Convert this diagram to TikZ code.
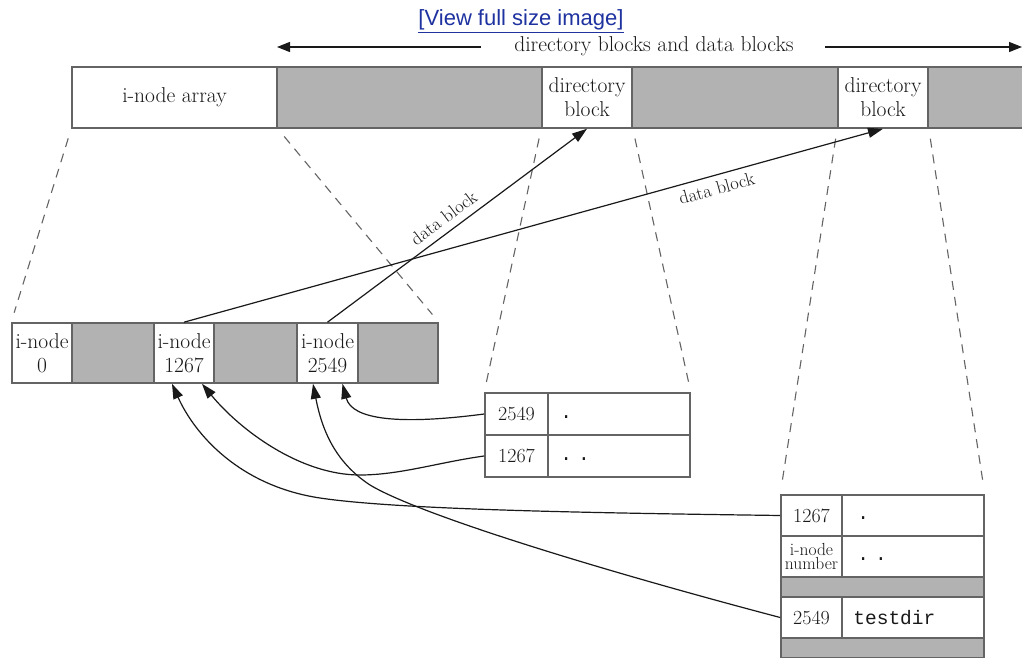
\documentclass[tikz,border=0pt]{standalone}
\usepackage{fontspec}
\newfontfamily\linkfont{Liberation Sans}
\newfontfamily\codefont{Liberation Mono}
\usetikzlibrary{arrows.meta}
\definecolor{cellgray}{RGB}{178,178,178}
\definecolor{edgegray}{RGB}{100,100,100}
\definecolor{ink}{RGB}{25,25,25}
\definecolor{linkblue}{RGB}{30,50,160}
\begin{document}
\begin{tikzpicture}[x=1pt,y=-1pt,
  cell/.style={draw=edgegray, line width=1.6pt, inner sep=0pt, text=ink, align=center,
    font=\fontsize{21.5}{24}\selectfont},
  wcell/.style={cell, fill=white},
  gcell/.style={cell, fill=cellgray},
  numcell/.style={wcell, font=\fontsize{20}{23}\selectfont},
  txt/.style={text=ink, inner sep=1pt},
  codetxt/.style={txt, anchor=west, font=\codefont\fontsize{19.5}{22}\selectfont},
  dashline/.style={draw=edgegray, line width=1.1pt, dash pattern=on 9pt off 7pt,
    shorten <=10pt, shorten >=10pt},
  ptr/.style={draw=ink, line width=1.2pt, -{Triangle[length=15pt,width=10pt]}},
  topptr/.style={draw=ink, line width=1.2pt, -{Triangle[length=13pt,width=10pt]}},
  blocklabel/.style={text=ink, font=\fontsize{18.5}{20}\selectfont, sloped, inner sep=2pt}
]
\clip (0,0) rectangle (1022,658);
\fill[white] (0,0) rectangle (1022,658);

% link
\node[text=linkblue, font=\linkfont\fontsize{22}{25}\selectfont, inner sep=0pt] (link) at (521,20) {[View full size image]};
\draw[linkblue, line width=1pt] ([yshift=-2pt]link.south west) -- ([yshift=-2pt]link.south east);

% top label and arrows
\node[txt, font=\fontsize{21.5}{24}\selectfont] (toplbl) at (654,46) {directory blocks and data blocks};
\coordinate (tipL) at (277,47);
\coordinate (tipR) at (1022,47);
\draw[topptr] ([xshift=-32pt,yshift=-1pt]toplbl.west) -- (tipL);
\draw[topptr] ([xshift=30pt,yshift=-1pt]toplbl.east) -- (tipR);

% top bar
\node[wcell, minimum width=205pt, minimum height=61pt] (arr) at (174.5,97.5) {i-node array};
\node[gcell, minimum width=265pt, minimum height=61pt] (g1) at (409.5,97.5) {};
\node[wcell, minimum width=90pt, minimum height=61pt] (db1) at (587,97.5) {directory\\block};
\node[gcell, minimum width=206pt, minimum height=61pt] (g2) at (735,97.5) {};
\node[wcell, minimum width=90pt, minimum height=61pt] (db2) at (883,97.5) {directory\\block};
\node[gcell, minimum width=112pt, minimum height=61pt] (g3) at (984,97.5) {};

% i-node row
\node[wcell, minimum width=60pt, minimum height=60pt] (in0) at (42,353) {i-node\\0};
\node[gcell, minimum width=82pt, minimum height=60pt] (ig1) at (113,353) {};
\node[wcell, minimum width=60pt, minimum height=60pt] (inA) at (184,353) {i-node\\1267};
\node[gcell, minimum width=83pt, minimum height=60pt] (ig2) at (255.5,353) {};
\node[wcell, minimum width=61pt, minimum height=60pt] (inB) at (327.5,353) {i-node\\2549};
\node[gcell, minimum width=80pt, minimum height=60pt] (ig3) at (398,353) {};

% directory table 1
\node[numcell, minimum width=63pt, minimum height=42pt] (t1n1) at (516.5,414) {2549};
\node[wcell, minimum width=142pt, minimum height=42pt] (t1e1) at (619,414) {};
\node[numcell, minimum width=63pt, minimum height=42pt] (t1n2) at (516.5,456) {1267};
\node[wcell, minimum width=142pt, minimum height=42pt] (t1e2) at (619,456) {};
\node[codetxt] (t1d1) at ([xshift=12pt,yshift=-3pt]t1e1.west) {.};
\node[codetxt] (t1d2) at ([xshift=12pt,yshift=-3pt]t1e2.west) {.\kern6pt.};

% directory table 2
\node[numcell, minimum width=61pt, minimum height=41pt] (t2n1) at (811.5,515.5) {1267};
\node[wcell, minimum width=142pt, minimum height=41pt] (t2e1) at (913,515.5) {};
\node[wcell, minimum width=61pt, minimum height=41pt, font=\fontsize{17.5}{14.5}\selectfont] (t2n2) at (811.5,556.5) {i-node\\number};
\node[wcell, minimum width=142pt, minimum height=41pt] (t2e2) at (913,556.5) {};
\node[gcell, minimum width=203pt, minimum height=20pt] (t2g1) at (882.5,587) {};
\node[numcell, minimum width=61pt, minimum height=41pt] (t2n3) at (811.5,617.5) {2549};
\node[wcell, minimum width=142pt, minimum height=41pt] (t2e3) at (913,617.5) {};
\node[gcell, minimum width=203pt, minimum height=20pt] (t2g2) at (882.5,648) {};
\node[codetxt] (t2d1) at ([xshift=15pt,yshift=-3pt]t2e1.west) {.};
\node[codetxt] (t2d2) at ([xshift=15pt,yshift=-3pt]t2e2.west) {.\kern6pt.};
\node[codetxt] (t2d3) at ([xshift=11pt]t2e3.west) {testdir};

% dashed projection lines
\draw[dashline] (arr.south west) -- (in0.north west);
\draw[dashline] (arr.south east) -- (ig3.north east);
\draw[dashline] (db1.south west) -- (t1n1.north west);
\draw[dashline] (db1.south east) -- (t1e1.north east);
\draw[dashline] (db2.south west) -- (t2n1.north west);
\draw[dashline] (db2.south east) -- (t2e1.north east);

% data block pointers
\draw[ptr] (inB.north) -- node[blocklabel, pos=0.48, above=5pt] {data block} (db1.south);
\draw[ptr] (inA.north) -- node[blocklabel, pos=0.757, below=4pt] {data block} (db2.south);

% directory entry pointers back to i-nodes
\draw[ptr] (t1n1.west) .. controls (400,425) and (352,420) .. ([xshift=15pt]inB.south);
\draw[ptr] (t1n2.west) .. controls (440,462) and (400,475) .. (360,475)
  .. controls (300,475) and (240,430) .. ([xshift=18pt]inA.south);
\draw[ptr] (t2n1.west) .. controls (600,513) and (400,510) .. (320,498)
  .. controls (240,486) and (195,435) .. ([xshift=-12pt]inA.south);
\draw[ptr] (t2n3.west) .. controls (600,570) and (420,515) .. (370,485)
  .. controls (335,462) and (322,430) .. ([xshift=-14.5pt]inB.south);
\end{tikzpicture}
\end{document}
